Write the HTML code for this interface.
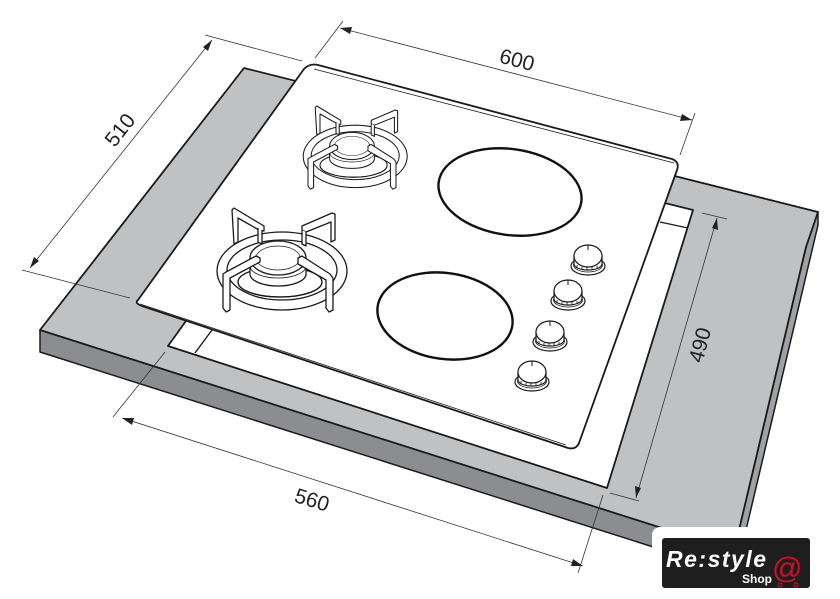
<!DOCTYPE html>
<html><head><meta charset="utf-8"><style>
html,body{margin:0;padding:0;background:#fff;}
svg{display:block;}
text{font-family:"Liberation Sans",sans-serif;}
</style></head><body>
<svg width="840" height="599" viewBox="0 0 840 599" xmlns="http://www.w3.org/2000/svg">
<defs>
<g id="burner" stroke="#1a1a1a" stroke-width="1.3" fill="#fff" stroke-linejoin="round">
  <path fill-rule="evenodd" d="M-61,13 a65,39 0 1,0 130,0 a65,39 0 1,0 -130,0 Z M-51,12 a55,30 0 1,0 110,0 a55,30 0 1,0 -110,0 Z"/>
  <ellipse cx="2" cy="24" rx="42" ry="15"/>
  <path d="M-40,24 a42,15 0 0,0 84,0" fill="none"/>
  <path d="M-28,0 L-28,16 A28,12 0 0,0 28,16 L28,0 Z"/>
  <path d="M-28,8 A28,12 0 0,0 28,8" fill="none" stroke-width="0.8"/>
  <ellipse cx="0" cy="0" rx="28" ry="17"/>
  <ellipse cx="0" cy="0" rx="22" ry="12" fill="none" stroke-width="0.7"/>
  <path d="M-46,-48 L-44,-50 L-14,-32 L-14,-27 L-19,-28 L-40,-40 L-40,-16 L-44,-14 Z"/>
  <path d="M-20,-30 L-20,-16 L-16,-14 L-16,-28" />
  <path d="M54,-45 L57,-44 L57,-18 L53,-16 L53,-36 L28,-26 L24,-28 L24,-32 Z"/>
  <path d="M24,-28 L24,-14 L28,-12 L28,-26"/>
  <path d="M-55,16 L-52,14 L-22,-2 L-18,0 L-18,4 L-48,20 L-48,52 L-52,54 L-55,50 Z"/>
  <path d="M20,0 L24,-2 L52,16 L55,20 L55,52 L51,54 L48,50 L48,22 L20,6 Z"/>
</g>
<g id="knob" stroke="#1a1a1a" fill="#fff" stroke-width="1.2">
  <ellipse cx="0" cy="10" rx="17" ry="9"/>
  <ellipse cx="0" cy="9" rx="14.5" ry="7" stroke-width="0.8"/>
  <path d="M-14,0 L-14,8 A14,6 0 0,0 14,8 L14,0 Z"/>
  <path d="M-11,9 l0,3 M-6,11 l0,3 M-1,11.5 l0,3 M4,11 l0,3 M9,10 l0,3" stroke-width="0.8"/>
  <ellipse cx="0" cy="0" rx="14" ry="11"/>
  <path d="M0,-11 L0,-6" stroke-width="1"/>
</g>
</defs>

<!-- countertop -->
<polygon points="40,330 40,352 735,573 735,551" fill="#8c8d90" stroke="#1a1a1a" stroke-width="1.5" stroke-linejoin="round"/>
<polygon points="806,247 818,212 818,225 746,530 734,551" fill="#a0a1a4" stroke="#1a1a1a" stroke-width="1.5" stroke-linejoin="round"/>
<polygon points="244,68 818,212 806,247 734,551 40,330" fill="#c0c1c3" stroke="#1a1a1a" stroke-width="1.8" stroke-linejoin="round"/>

<!-- cutout -->
<polygon points="168,346 607,488 693,210 330,120" fill="#fff" stroke="#1a1a1a" stroke-width="1.8" stroke-linejoin="round"/>
<path d="M195,353 L212,330 M660,222 L688,228" fill="none" stroke="#1a1a1a" stroke-width="1.4"/>

<!-- hob glass -->
<path d="M138,300 L304,69 Q310,63 318,65 L672,159 Q680,162 677,170 L579,443 Q576,450 568,448 L142,306 Q134,303 138,300 Z" fill="#fff" stroke="#1a1a1a" stroke-width="1.8" stroke-linejoin="round"/>
<path d="M314,69 L674,163 M140,304 L566,445" fill="none" stroke="#1a1a1a" stroke-width="0.8"/>

<use href="#burner" transform="translate(278,258)"/>
<use href="#burner" transform="translate(352,146) scale(0.8)"/>

<ellipse cx="510" cy="192" rx="72" ry="43" transform="rotate(8 510 192)" fill="none" stroke="#111" stroke-width="2.4"/>
<ellipse cx="445" cy="316" rx="68" ry="43" transform="rotate(8 445 316)" fill="none" stroke="#111" stroke-width="2.4"/>

<use href="#knob" transform="translate(588,256)"/>
<use href="#knob" transform="translate(568,291)"/>
<use href="#knob" transform="translate(550,332)"/>
<use href="#knob" transform="translate(532,372)"/>

<g stroke="#333" stroke-width="0.8" fill="none">
  <path d="M315,58 L343,21 M680,155 L695,113"/>
  <path d="M340,28 L692,120"/>
  <path d="M205,35 L302,61 M22,270 L130,298"/>
  <path d="M212,40 L30,268"/>
  <path d="M702,213 L727,219 M610,493 L639,501"/>
  <path d="M717,218 L636,498"/>
  <path d="M113,417 L165,352 M578,573 L603,495"/>
  <path d="M122,418 L583,566"/>
</g>
<g fill="#222">
  <polygon points="340,28 352,27 350,34"/>
  <polygon points="692,120 680,121 682,114"/>
  <polygon points="212,40 208,51 203,47"/>
  <polygon points="30,268 34,257 39,261"/>
  <polygon points="717,218 718,230 712,228"/>
  <polygon points="636,498 635,486 641,488"/>
  <polygon points="122,418 134,418 132,425"/>
  <polygon points="583,566 571,566 573,559"/>
</g>
<g font-size="21" fill="#222" text-anchor="middle">
  <text x="517" y="67" transform="rotate(15 517 60)">600</text>
  <text x="120" y="137" transform="rotate(-52 120 130)">510</text>
  <text x="700" y="352" transform="rotate(-75 700 345)">490</text>
  <text x="312" y="507" transform="rotate(17 312 500)">560</text>
</g>

<rect x="652" y="527" width="200" height="80" rx="8" fill="#fff"/>
<rect x="662" y="538" width="148" height="50" rx="3" fill="#1e1e1e"/>
<text x="666" y="567" font-size="23" font-style="italic" font-weight="bold" fill="#fff" textLength="100">Re:style</text>
<text x="742" y="583" font-size="12" font-weight="bold" fill="#fff">Shop</text>
<text x="772" y="578" font-size="30" fill="#d0102a">@</text>
<circle cx="780" cy="585" r="2" fill="none" stroke="#d0102a"/>
<circle cx="796" cy="585" r="2" fill="none" stroke="#d0102a"/>
</svg>
</body></html>
